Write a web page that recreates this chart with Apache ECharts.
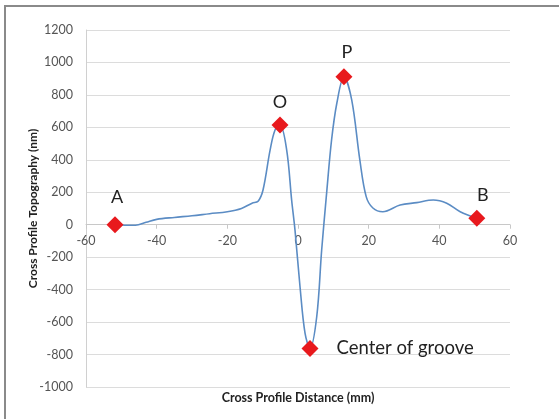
<!DOCTYPE html>
<html>
<head>
<meta charset="utf-8">
<script src="https://cdn.jsdelivr.net/npm/echarts@6/dist/echarts.min.js"></script>
<style>
  body { margin: 0; background: #fff; }
  #wrap { position: relative; width: 559px; height: 419px; }
  #chart { width: 559px; height: 419px; }
  #frame {
    position: absolute; left: 4px; top: 5px; right: 0; bottom: 0;
    border-left: 2px solid #8a8a8a; border-top: 2px solid #8a8a8a;
    pointer-events: none;
  }
</style>
</head>
<body>
<div id="wrap">
  <div id="chart"></div>
  <div id="frame"></div>
</div>
<script>
// profile: distance (mm), topography (nm)
const distance = [-51.8, -49, -46, -43, -40, -35, -30, -25, -20, -16, -13, -11.3, -9.9, -7.9, -6.5, -5.1,
  -3.2, -1.8, -0.85, 0.57, 2, 3.4, 5.3, 6.7, 8.1, 9.5, 11, 13, 15.2, 17.5, 19.3, 21.2, 24, 28.9,
  33.6, 38.3, 42.1, 45.9, 50.6];
const topography = [0, -3, -3, 15, 33, 45, 55, 68, 80, 100, 133, 145, 214, 460, 584, 615,
  460, 152, -33, -382, -670, -762, -567, -156, 195, 522, 750, 912, 769, 399, 173, 103, 80, 121,
  136, 152, 132, 80, 40];

// labelled points
const pointNames = ['A', 'O', 'P', 'Center of groove', 'B'];
const pointX = [-51.8, -5.1, 13, 3.4, 50.6];
const pointY = [0, 615, 912, -762, 40];
const labelOffsets = [[2, -28], [0, -23], [3, -25], [0, 0], [6, -23]];

const chart = echarts.init(document.getElementById('chart'));

const font = 'Lato, "Open Sans", sans-serif';

const gridTop = 30, gridBottom = 32, chartH = 419;
const yMin = -1000, yMax = 1200;
// move the x axis up to the zero line
const plotH = chartH - gridTop - gridBottom;
const zeroOffset = -plotH * (0 - yMin) / (yMax - yMin);

const option = {
  animation: false,
  grid: { left: 86, right: 49, top: gridTop, bottom: gridBottom, outerBoundsMode: 'none' },
  xAxis: {
    type: 'value',
    min: -60, max: 60, interval: 20,
    position: 'bottom',
    offset: zeroOffset,
    name: 'Cross Profile Distance (mm)',
    nameLocation: 'middle',
    nameGap: 167,
    nameMoveOverlap: false,
    nameTextStyle: { fontFamily: font, fontSize: 12.5, fontWeight: 'bold', color: '#222' },
    axisLine: { onZero: false, lineStyle: { color: '#c8c8c8', width: 1 } },
    axisTick: { show: true, length: 4, lineStyle: { color: '#c8c8c8' } },
    axisLabel: { fontFamily: font, fontSize: 12.5, color: '#555', margin: 10 },
    splitLine: { show: false }
  },
  yAxis: {
    type: 'value',
    min: yMin, max: yMax, interval: 200,
    name: 'Cross Profile Topography (nm)',
    nameLocation: 'middle',
    nameGap: 47,
    nameMoveOverlap: false,
    nameRotate: 90,
    nameTextStyle: { fontFamily: font, fontSize: 12, fontWeight: 'bold', color: '#222' },
    axisLine: { show: true, onZero: false, lineStyle: { color: '#d0d0d0', width: 1 } },
    axisTick: { show: false },
    axisLabel: { fontFamily: font, fontSize: 12.5, color: '#555', margin: 13, formatter: v => String(v) },
    splitLine: { lineStyle: { color: '#dcdcdc', width: 1 } }
  },
  series: [
    {
      type: 'line',
      data: distance.map((x, i) => [x, topography[i]]),
      smooth: 0.35,
      showSymbol: false,
      lineStyle: { color: '#5b8cc4', width: 1.6 },
      z: 2
    },
    {
      type: 'scatter',
      symbol: 'diamond',
      symbolSize: [17, 17],
      itemStyle: { color: '#e8191d', opacity: 1 },
      data: pointX.map((x, i) => ({
        value: [x, pointY[i]],
        name: pointNames[i],
        label: i === 3
          ? { show: true, position: 'right', distance: 18, fontSize: 18.5 }
          : { show: true, position: 'inside', offset: labelOffsets[i], fontSize: 18 }
      })),
      label: {
        formatter: p => p.name,
        fontFamily: font,
        color: '#222'
      },
      z: 3
    }
  ]
};

chart.setOption(option);
</script>
</body>
</html>
